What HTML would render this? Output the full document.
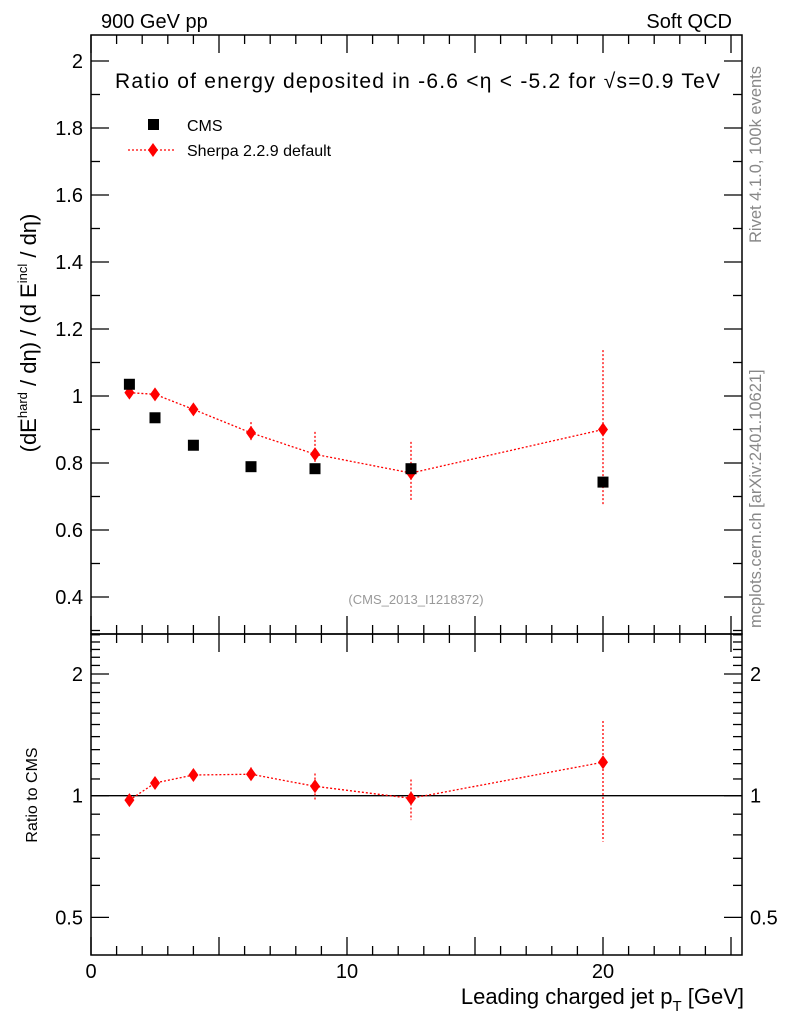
<!DOCTYPE html>
<html><head><meta charset="utf-8"><style>
body{margin:0;background:#fff}
svg{display:block;font-family:"Liberation Sans",sans-serif}
</style></head><body>
<svg id="c" width="786" height="1024" xmlns="http://www.w3.org/2000/svg"></svg>
<script>
const xs=[1.5,2.5,4,6.25,8.75,12.5,20];
const cmsVals=[1.035,0.935,0.853,0.789,0.783,0.783,0.743];
const sherpaVals=[1.01,1.005,0.96,0.89,0.826,0.77,0.90];
const sherpaUp=[0.012,0.01,0.012,0.032,0.067,0.093,0.237];
const sherpaDn=[0.012,0.01,0.012,0.024,0.062,0.083,0.228];
const ratioVals=[0.975,1.075,1.125,1.13,1.055,0.985,1.21];
const ratioHi=[0.99,1.09,1.14,1.175,1.135,1.097,1.53];
const ratioLo=[0.96,1.06,1.11,1.097,0.97,0.87,0.77];
const xTicks=[0,10,20];
const yTicks=[0.4,0.6,0.8,1,1.2,1.4,1.6,1.8,2];
const rTicks=[0.5,1,2];

const L=91,R=742,T=35,M=634,B=955;
const X=v=>L+v*25.6;
const Y=v=>396-(v-1)*335;
const YR=v=>795.7-Math.log2(v)*121.7;
const svg=document.getElementById('c');
const NS='http://www.w3.org/2000/svg';
function el(t,a,txt){const e=document.createElementNS(NS,t);for(const k in a)e.setAttribute(k,a[k]);if(txt!==undefined)e.textContent=txt;svg.appendChild(e);return e;}

let e;
e=el('rect',{x:L,y:T,width:R-L,height:M-T,fill:'none',stroke:'#000','stroke-width':1.5});

e=el('rect',{x:L,y:M,width:R-L,height:B-M,fill:'none',stroke:'#000','stroke-width':1.5});


for(let v=0;v<=25;v++){
  const big=v%5===0, len=big?18:9, x=X(v);
  [[T,1],[M,-1],[M,1],[B,-1]].forEach(([y,d])=>{
    e=el('line',{x1:x,x2:x,y1:y,y2:y+d*len,stroke:'#000','stroke-width':1.3});
    
  });
}
xTicks.forEach(v=>{
  e=el('text',{x:X(v),y:978,'font-size':20,'text-anchor':'middle'},String(v));
  
});
for(let i=0;i<=18;i++){
  const v=0.3+i*0.1; if(v>2.07)break;
  const big=Math.abs((v*10)%2)<0.01||Math.abs((v*10)%2-2)<0.01, len=big?18:9;
  [[L,1],[R,-1]].forEach(([x,d])=>{
    e=el('line',{x1:x,x2:x+d*len,y1:Y(v),y2:Y(v),stroke:'#000','stroke-width':1.3});
    
  });
}
yTicks.forEach(v=>{
  e=el('text',{x:83,y:Y(v)+7,'font-size':20,'text-anchor':'end'},String(v));
  
});
[0.4,0.5,0.6,0.7,0.8,0.9,1,1.1,1.2,1.3,1.4,1.5,1.6,1.7,1.8,1.9,2,2.1,2.2,2.3,2.4,2.5].forEach(v=>{
  const big=[0.5,1,2].includes(v), len=big?18:9;
  if(YR(v)<M||YR(v)>B)return;
  [[L,1],[R,-1]].forEach(([x,d])=>{
    e=el('line',{x1:x,x2:x+d*len,y1:YR(v),y2:YR(v),stroke:'#000','stroke-width':1.3});
    
  });
});
rTicks.forEach(v=>{
  e=el('text',{x:83,y:YR(v)+7,'font-size':20,'text-anchor':'end'},String(v));
  
  e=el('text',{x:750,y:YR(v)+7,'font-size':20},String(v));
  
});
e=el('line',{x1:L,x2:R,y1:YR(1),y2:YR(1),stroke:'#000','stroke-width':1.3});


e=el('polyline',{points:xs.map((x,i)=>X(x)+','+Y(sherpaVals[i])).join(' '),fill:'none',stroke:'red','stroke-width':1.3,'stroke-dasharray':'2,2'});

xs.forEach((x,i)=>{
  e=el('line',{x1:X(x),x2:X(x),y1:Y(sherpaVals[i]+sherpaUp[i]),y2:Y(sherpaVals[i]-sherpaDn[i]),stroke:'red','stroke-width':1.3,'stroke-dasharray':'2,2'});
  
  const cx=X(x),cy=Y(sherpaVals[i]);
  e=el('polygon',{points:`${cx},${cy-7} ${cx+5},${cy} ${cx},${cy+7} ${cx-5},${cy}`,fill:'red'});
  
});
xs.forEach((x,i)=>{
  e=el('rect',{x:X(x)-5.5,y:Y(cmsVals[i])-5.5,width:11,height:11,fill:'#000'});
  
});
e=el('polyline',{points:xs.map((x,i)=>X(x)+','+YR(ratioVals[i])).join(' '),fill:'none',stroke:'red','stroke-width':1.3,'stroke-dasharray':'2,2'});

xs.forEach((x,i)=>{
  e=el('line',{x1:X(x),x2:X(x),y1:YR(ratioHi[i]),y2:YR(ratioLo[i]),stroke:'red','stroke-width':1.3,'stroke-dasharray':'2,2'});
  
  const cx=X(x),cy=YR(ratioVals[i]);
  e=el('polygon',{points:`${cx},${cy-7} ${cx+5},${cy} ${cx},${cy+7} ${cx-5},${cy}`,fill:'red'});
  
});

e=el('text',{x:101,y:28,'font-size':20},'900 GeV pp');
e=el('text',{x:732,y:28,'font-size':20,'text-anchor':'end'},'Soft QCD');
e=el('text',{x:115,y:88,'font-size':21,textLength:605},'Ratio of energy deposited in -6.6 <η < -5.2 for √s=0.9 TeV');
e=el('rect',{x:148,y:119,width:11,height:11,fill:'#000'});
e=el('text',{x:187,y:131,'font-size':16},'CMS');
e=el('line',{x1:128,x2:176,y1:150,y2:150,stroke:'red','stroke-width':1.3,'stroke-dasharray':'2,2'});
e=el('polygon',{points:'153,143 158,150 153,157 148,150',fill:'red'});
e=el('text',{x:187,y:156,'font-size':16},'Sherpa 2.2.9 default');
e=el('text',{x:416,y:604,'font-size':13,fill:'#999','text-anchor':'middle'},'(CMS_2013_I1218372)');
e=el('text',{x:744,y:1004,'font-size':22,'text-anchor':'end'});
e.innerHTML='Leading charged jet p<tspan font-size="15" dy="7">T</tspan><tspan dy="-7"> [GeV]</tspan>';

e=el('text',{x:0,y:0,'font-size':22,transform:'translate(36,333) rotate(-90)','text-anchor':'middle'});
e.innerHTML='(dE<tspan font-size="13" dy="-9">hard</tspan><tspan dy="9"> / dη) / (d E</tspan><tspan font-size="13" dy="-9">incl</tspan><tspan dy="9"> / dη)</tspan>';

e=el('text',{x:0,y:0,'font-size':16,transform:'translate(37,795) rotate(-90)','text-anchor':'middle'},'Ratio to CMS');
e=el('text',{x:0,y:0,'font-size':16.5,fill:'#888',transform:'translate(761,243) rotate(-90)'},'Rivet 4.1.0,  100k events');
e=el('text',{x:0,y:0,'font-size':16.5,fill:'#888',transform:'translate(761,628) rotate(-90)'},'mcplots.cern.ch [arXiv:2401.10621]');
</script>
</body></html>
